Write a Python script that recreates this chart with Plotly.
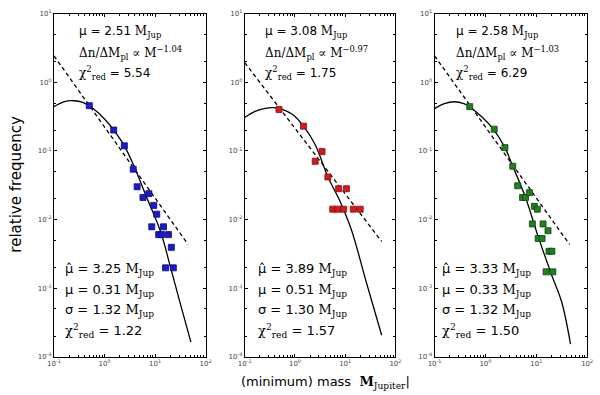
import plotly.graph_objects as go

# ---- data (mass in M_Jup, relative frequency) ----
# panel 1 (blue)
m1 = [0.50, 1.52, 2.47, 3.70, 4.42, 5.77, 7.53, 9.42, 10.8, 8.61, 14.7, 11.8, 13.5, 18.4, 21.0, 16.1, 23.0]
f1 = [0.458, 0.202, 0.119, 0.0543, 0.0301, 0.0210, 0.0239, 0.0161, 0.0120, 0.00785, 0.00785,
      0.00604, 0.00604, 0.00604, 0.00394, 0.00198, 0.00198]
fit1_m = [0.1, 0.156, 0.244, 0.381, 0.595, 1.01, 1.58, 2.47, 3.70, 6.59, 12.9, 20.1, 31.4, 51.2]
fit1_f = [0.443, 0.522, 0.540, 0.506, 0.415, 0.290, 0.195, 0.119, 0.064, 0.0224, 0.00665, 0.00205,
          0.000607, 0.000164]
pl1_m = [0.1, 45.0]
pl1_f = [2.44, 0.00434]

# panel 2 (red)
m2 = [0.481, 1.48, 3.46, 2.53, 4.53, 7.41, 10.6, 5.66, 7.09, 9.29, 14.5, 19.9]
f2 = [0.402, 0.230, 0.098, 0.0706, 0.0418, 0.0282, 0.0282, 0.0142, 0.0142, 0.0142, 0.0142, 0.0142]
fit2_m = [0.1, 0.157, 0.245, 0.367, 0.575, 0.901, 1.48, 2.53, 4.53, 7.76, 13.3, 26.1, 53.3]
fit2_f = [0.309, 0.376, 0.415, 0.428, 0.402, 0.341, 0.230, 0.123, 0.0418, 0.019, 0.00711, 0.00125,
          0.000206]
pl2_m = [0.1, 53.3]
pl2_f = [1.94, 0.0048]

# panel 3 (green)
m3 = [0.492, 1.49, 2.42, 3.45, 4.31, 5.38, 6.14, 7.33, 9.16, 10.5, 8.38, 13.6, 17.0, 10.9, 13.0,
      17.8, 20.3, 15.6, 21.2]
f3 = [0.443, 0.208, 0.112, 0.060, 0.0311, 0.0210, 0.0210, 0.0247, 0.0156, 0.0142, 0.00865, 0.00865,
      0.00689, 0.0053, 0.0053, 0.00345, 0.00345, 0.00173, 0.00173]
fit3_m = [0.1, 0.156, 0.243, 0.378, 0.515, 0.838, 1.43, 2.42, 3.45, 6.14, 10.9, 20.3, 31.6, 47.1]
fit3_f = [0.415, 0.489, 0.522, 0.489, 0.428, 0.319, 0.208, 0.112, 0.060, 0.021, 0.00565, 0.00152,
          0.000628, 0.000153]
pl3_m = [0.1, 45.1]
pl3_f = [2.44, 0.00434]

top_mu = ["2.51", "3.08", "2.58"]
top_slope = ["1.04", "0.97", "1.03"]
top_chi = ["5.54", "1.75", "6.29"]
bot_muhat = ["3.25", "3.89", "3.33"]
bot_mu = ["0.31", "0.51", "0.33"]
bot_sigma = ["1.32", "1.30", "1.32"]
bot_chi = ["1.22", "1.57", "1.50"]

x_ticks = [0.1, 1, 10, 100]
x_ticktext = ["10<sup>-1</sup>", "10<sup>0</sup>", "10<sup>1</sup>", "10<sup>2</sup>"]
y_ticks = [1e-4, 1e-3, 1e-2, 1e-1, 1, 10]
y_ticktext = ["10<sup>-4</sup>", "10<sup>-3</sup>", "10<sup>-2</sup>", "10<sup>-1</sup>",
              "10<sup>0</sup>", "10<sup>1</sup>"]

panels = [
    (m1, f1, fit1_m, fit1_f, pl1_m, pl1_f, "#1a1ad0", "#0b0b70"),
    (m2, f2, fit2_m, fit2_f, pl2_m, pl2_f, "#d81818", "#801010"),
    (m3, f3, fit3_m, fit3_f, pl3_m, pl3_f, "#1f801f", "#0f450f"),
]

W, H = 600, 395
x_dom = [(48, 203), (243, 397), (437, 593)]
y_dom = [1 - 360 / H, 1 - 9 / H]
top_left = [72, 262, 457]
bot_left = [57, 255, 443]

fig = go.Figure()
layout = dict(width=W, height=H, margin=dict(l=0, r=0, t=0, b=0),
              paper_bgcolor="white", plot_bgcolor="white", showlegend=False,
              font=dict(family="DejaVu Sans", color="black"))
annotations = []

serif = "font-family:'DejaVu Serif'"

for i, (m, f, fm, ff, pm, pf, col, edge) in enumerate(panels):
    n = "" if i == 0 else str(i + 1)
    xa, ya = "x" + n, "y" + n

    fig.add_trace(go.Scatter(x=fm, y=ff, mode="lines", line=dict(color="black", width=1.3, shape="spline"),
                             xaxis=xa, yaxis=ya, hoverinfo="skip"))
    fig.add_trace(go.Scatter(x=pm, y=pf, mode="lines", line=dict(color="black", width=1.3, dash="4px,3px"),
                             xaxis=xa, yaxis=ya, hoverinfo="skip"))
    fig.add_trace(go.Scatter(x=m, y=f, mode="markers",
                             marker=dict(symbol="square", size=6, color=col, line=dict(color=edge, width=0.8)),
                             xaxis=xa, yaxis=ya))

    x0, x1 = x_dom[i]
    layout["xaxis" + n] = dict(
        type="log", range=[-1, 2], domain=[x0 / W, x1 / W], anchor=ya,
        showline=True, linecolor="black", linewidth=1, mirror="ticks",
        showgrid=False, zeroline=False, ticks="inside", ticklen=3, tickcolor="black",
        tickmode="array", tickvals=x_ticks, ticktext=x_ticktext,
        tickfont=dict(size=7, color="#444"),
        minor=dict(ticks="inside", ticklen=2, tickcolor="black", dtick="D1", showgrid=False),
    )
    layout["yaxis" + n] = dict(
        type="log", range=[-4, 1], domain=y_dom, anchor=xa,
        showline=True, linecolor="black", linewidth=1, mirror="ticks",
        showgrid=False, zeroline=False, ticks="inside", ticklen=3, tickcolor="black",
        tickmode="array", tickvals=y_ticks, ticktext=y_ticktext,
        tickfont=dict(size=7, color="#444"),
        minor=dict(ticks="inside", ticklen=2, tickcolor="black", dtick="D2", showgrid=False),
    )

    top_lines = [
        f"μ = {top_mu[i]} <span style=\"{serif}\">M<sub>Jup</sub></span>",
        f"<span style=\"{serif}\">Δn/ΔM<sub>pl</sub> ∝ M<sup>−{top_slope[i]}</sup></span>",
        f"<span style=\"{serif}\">χ<sup>2</sup><sub>red</sub></span> = {top_chi[i]}",
    ]
    for line, py in zip(top_lines, [28, 49, 70]):
        annotations.append(dict(text=line, x=top_left[i] / W, y=1 - py / H, xref="paper", yref="paper",
                                xanchor="left", yanchor="middle", showarrow=False,
                                font=dict(size=12, color="black")))
    bot_lines = [
        f"μ̂ = {bot_muhat[i]} <span style=\"{serif}\">M<sub>Jup</sub></span>",
        f"μ = {bot_mu[i]} <span style=\"{serif}\">M<sub>Jup</sub></span>",
        f"σ = {bot_sigma[i]} <span style=\"{serif}\">M<sub>Jup</sub></span>",
        f"<span style=\"{serif}\">χ<sup>2</sup><sub>red</sub></span> = {bot_chi[i]}",
    ]
    for line, py in zip(bot_lines, [271, 292, 313, 334]):
        annotations.append(dict(text=line, x=bot_left[i] / W, y=1 - py / H, xref="paper", yref="paper",
                                xanchor="left", yanchor="middle", showarrow=False,
                                font=dict(size=13, color="black")))

annotations.append(dict(text="relative frequency", x=9 / W, y=1 - 183 / H, xref="paper", yref="paper",
                        textangle=-90, showarrow=False, xanchor="center", yanchor="middle",
                        font=dict(size=15, color="black")))
annotations.append(dict(text=f"(minimum) mass  <span style=\"{serif}\"><b>M</b><sub>Jupiter</sub></span>|",
                        x=326 / W, y=1 - 386 / H, xref="paper", yref="paper",
                        showarrow=False, xanchor="center", yanchor="middle",
                        font=dict(size=13, color="black")))

layout["annotations"] = annotations
fig.update_layout(**layout)

# the page's default body margin would push the 600x395 figure off the window
fig.write_html("out.html", config={"displayModeBar": False},
               post_script="document.body.style.margin='0';document.body.style.overflow='hidden';")
